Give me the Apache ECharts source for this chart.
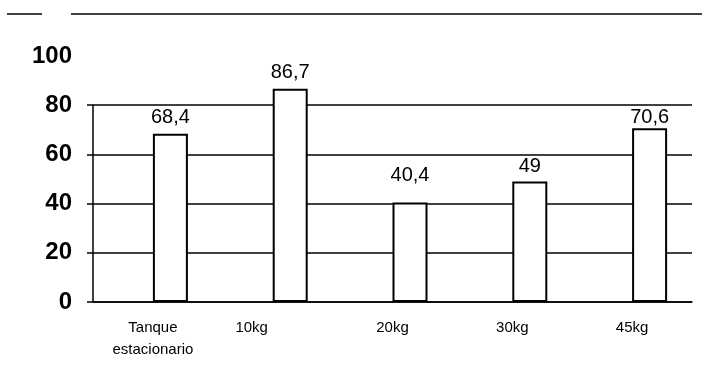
<!DOCTYPE html>
<html>
<head>
<meta charset="utf-8">
<script src="https://cdn.jsdelivr.net/npm/echarts@6/dist/echarts.min.js"></script>
<style>html,body{margin:0;padding:0;background:#fff}#c{width:702px;height:375px}</style>
</head>
<body>
<div id="c"></div>
<script>
const categories = ['Tanque\nestacionario', '10kg', '20kg', '30kg', '45kg'];
const values = [68.4, 86.7, 40.4, 49, 70.6];
const yTicks = [0, 20, 40, 60, 80, 100];

const chart = echarts.init(document.getElementById('c'), null, {renderer: 'canvas'});
const font = 'Liberation Sans, Arial, sans-serif';
const black = '#000';
// label gaps as printed in the original figure
const labelGap = [6, 6, 17, 5, 1];

chart.setOption({
  animation: false,
  backgroundColor: '#fff',
  graphic: [
    {type: 'line', shape: {x1: 7, y1: 14, x2: 42, y2: 14}, style: {stroke: black, lineWidth: 1.5}},
    {type: 'line', shape: {x1: 71, y1: 14, x2: 702, y2: 14}, style: {stroke: black, lineWidth: 1.5}}
  ],
  grid: [
    {left: 93, right: 10, top: 56, bottom: 73},
    {left: 93, right: 10, top: 105.2, bottom: 73}
  ],
  xAxis: [
    {
      type: 'category', gridIndex: 0, data: categories,
      axisLine: {lineStyle: {color: black, width: 1.5}},
      axisTick: {show: false},
      axisLabel: {
        color: black, fontFamily: font, fontSize: 15, margin: 15, lineHeight: 22,
        formatter: (v, i) => i === 1 ? '{s|' + v + '}' : v,
        rich: {s: {fontFamily: font, fontSize: 15, color: black, padding: [0, 42, 0, 0]}}
      }
    },
    {type: 'category', gridIndex: 1, data: categories, show: false}
  ],
  yAxis: [
    {
      type: 'value', gridIndex: 0, min: yTicks[0], max: yTicks[yTicks.length - 1], interval: 20,
      axisLine: {show: false}, axisTick: {show: false}, splitLine: {show: false},
      axisLabel: {color: black, fontFamily: font, fontSize: 24, fontWeight: 'bold', margin: 21}
    },
    {
      type: 'value', gridIndex: 1, min: 0, max: 80, interval: 20,
      axisLine: {show: true, lineStyle: {color: black, width: 1.5}},
      axisTick: {show: true, length: 6, lineStyle: {color: black, width: 1.5}},
      axisLabel: {show: false},
      splitLine: {show: true, lineStyle: {color: black, width: 1.5}}
    }
  ],
  series: [
    {type: 'bar', xAxisIndex: 0, yAxisIndex: 0, data: [], barWidth: 35, barGap: '0%'},
    {
      type: 'bar', xAxisIndex: 0, yAxisIndex: 0,
      data: values.map((v, i) => ({value: v, label: {distance: labelGap[i]}})),
      barWidth: 35, barGap: '0%',
      itemStyle: {color: '#fff', borderColor: black, borderWidth: 2},
      label: {
        show: true, position: 'top', distance: 6, color: black, fontFamily: font, fontSize: 20,
        formatter: p => String(p.value).replace('.', ',')
      }
    }
  ]
});
</script>
</body>
</html>
